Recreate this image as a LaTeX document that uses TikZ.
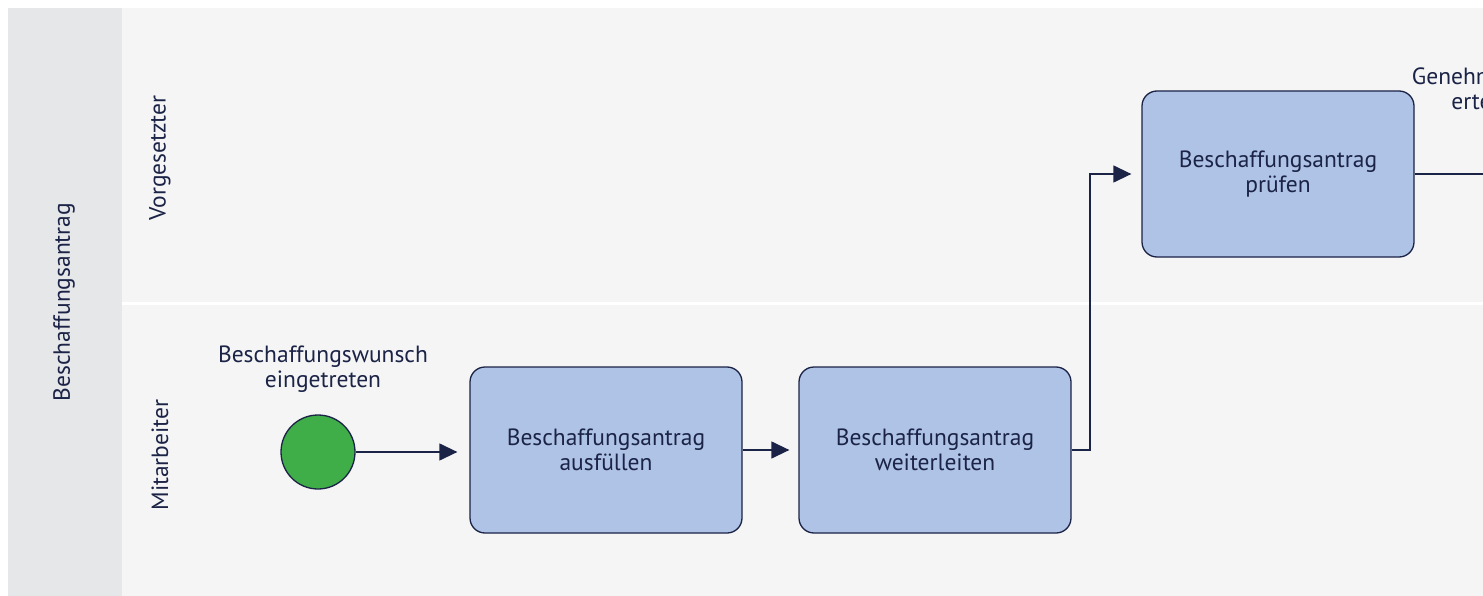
\documentclass[tikz,border=0pt]{standalone}
\usepackage{fontspec}
\setmainfont{PT Sans}
\usetikzlibrary{arrows.meta,positioning}
\definecolor{poolhead}{HTML}{E6E7E9}
\definecolor{lanebg}{HTML}{F5F5F5}
\definecolor{taskfill}{HTML}{AEC3E6}
\definecolor{navy}{HTML}{1B2346}
\definecolor{startgreen}{HTML}{3FAE49}
\tikzset{
  px/.style={x=1pt,y=-1pt},
  task/.style={draw=navy, line width=1.3pt, fill=taskfill, rounded corners=15pt,
    minimum width=272pt, minimum height=166pt, align=center, text=navy,
    font=\fontsize{23.5}{25}\selectfont, inner sep=0pt},
  startev/.style={circle, draw=navy, line width=1.3pt, fill=startgreen, minimum size=74pt, inner sep=0pt},
  lbl/.style={text=navy, align=center, font=\fontsize{23.5}{25}\selectfont},
  lanelbl/.style={text=navy, rotate=90, font=\fontsize{23.5}{25}\selectfont},
  flow/.style={draw=navy, line width=1.3pt, -{Triangle[length=18pt,width=17pt]}},
  flowplain/.style={draw=navy, line width=1.3pt},
}
\begin{document}
\begin{tikzpicture}[px]
\useasboundingbox (0,0) rectangle (1483,596);
\clip (0,0) rectangle (1483,596);
\fill[white] (0,0) rectangle (1483,596);
\fill[poolhead] (8,8) rectangle (122,596);
\fill[lanebg] (122,8) rectangle (1483,596);
\draw[white, line width=3pt] (122,303) -- (1483,303);
\node[lanelbl] (pool) at (64,302) {Beschaffungsantrag};
\node[lanelbl] (lane1) at (160,158) {Vorgesetzter};
\node[lanelbl] (lane2) at (160,455) {Mitarbeiter};

\node[startev] (start) at (318,452) {};
\node[lbl] (startlbl) at (323,369) {Beschaffungswunsch\\eingetreten};
\node[task] (t1) at (606,450) {Beschaffungsantrag\\ausfüllen};
\node[task] (t2) at (935,450) {Beschaffungsantrag\\weiterleiten};
\node[task] (t3) at (1278,174) {Beschaffungsantrag\\prüfen};
\node[lbl] (genlbl) at (1482,89) {Genehmigung\\erteilt};
\coordinate (out) at (1490,174);

\draw[flow, shorten >=12pt] (start) -- (t1.west |- start);
\draw[flow, shorten >=9pt] (t1.east) -- (t2.west);
\draw[flow, shorten >=10pt] (t2.east) -- (1090,450) -- (1090,174) -- (t3.west);
\draw[flowplain] (t3.east) -- (out);
\end{tikzpicture}
\end{document}
